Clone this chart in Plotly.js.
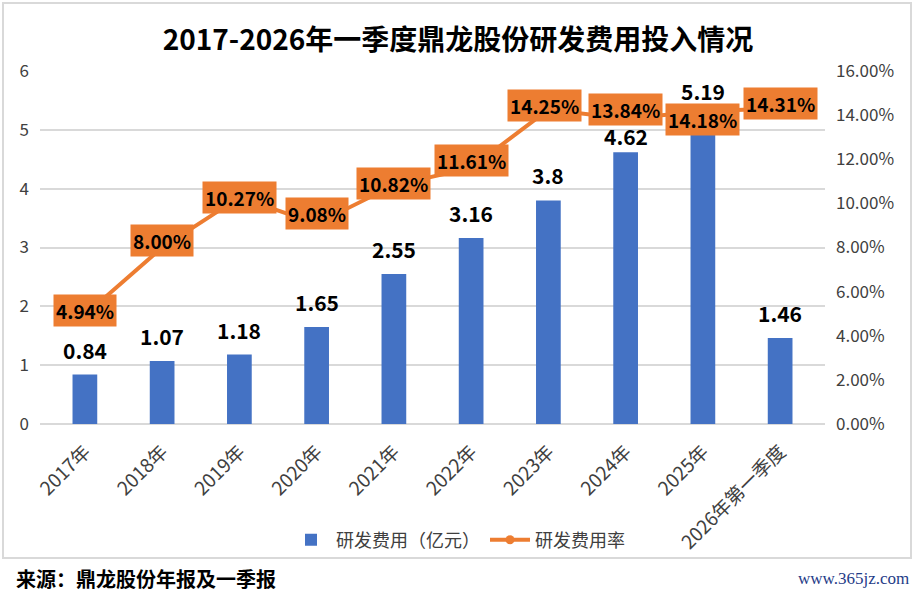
<!DOCTYPE html>
<html>
<head>
<meta charset="utf-8">
<script src="https://cdn.plot.ly/plotly-3.0.1.min.js"></script>
<style>
  html, body { margin: 0; padding: 0; background: #fff; }
  #chart { width: 916px; height: 592px; }
</style>
</head>
<body>
<div id="chart"></div>
<script>
// data
var years = ['2017年', '2018年', '2019年', '2020年', '2021年', '2022年', '2023年', '2024年', '2025年', '2026年第一季度']
var rdCost = [0.84, 1.07, 1.18, 1.65, 2.55, 3.16, 3.8, 4.62, 5.19, 1.46]          // 亿元
var rdRate = [4.94, 8.00, 10.27, 9.08, 10.82, 11.61, 14.25, 13.84, 14.18, 14.31]  // %

var FONT = '"Noto Sans CJK SC", "Microsoft YaHei", sans-serif'
var BLUE = '#4472C4'
var ORANGE = '#ED7D31'

// plot area in px: x 40..825, y 71..424
var W = 916, H = 592
var L = 40, R = 91, T = 71, B = 168
var pw = W - L - R, ph = H - T - B
function px(x) { return (x - L) / pw }
function py(y) { return (H - B - y) / ph }

var bars = {
  x: years,
  y: rdCost,
  type: 'bar',
  name: '研发费用（亿元）',
  marker: { color: BLUE },
  width: 0.32,
  hoverinfo: 'x+y'
}

var line = {
  x: years,
  y: rdRate,
  yaxis: 'y2',
  type: 'scatter',
  mode: 'lines+markers',
  name: '研发费用率',
  line: { color: ORANGE, width: 4 },
  marker: { color: ORANGE, size: 9 },
  cliponaxis: false
}

var annotations = []

// value labels above the bars (2024 and 2025 moved a bit to clear the orange boxes)
var barShift = [25, 25, 25, 25, 25, 25, 25, 16, 28, 25]
rdCost.forEach(function (v, i) {
  annotations.push({
    x: years[i], y: v, xref: 'x', yref: 'y',
    text: '<b>' + v + '</b>',
    showarrow: false, yanchor: 'middle', yshift: barShift[i],
    font: { family: FONT, size: 21, color: '#000' }
  })
})

// orange boxed labels on the rate line, nudged like in the original
var boxShift = [5, 7, 0, 10, 2, 7, 4, 9, -8, 5]
rdRate.forEach(function (v, i) {
  annotations.push({
    x: years[i], y: v, xref: 'x', yref: 'y2',
    text: '<b>' + v.toFixed(2) + '%</b>',
    showarrow: false, yanchor: 'middle',
    yshift: boxShift[i], xshift: i === 6 ? -4 : 0,
    bgcolor: ORANGE, borderpad: 2,
    font: { family: FONT, size: 19, color: '#000' }
  })
})

// source line and watermark under the frame
annotations.push({
  xref: 'paper', yref: 'paper', x: px(14), y: py(578),
  xanchor: 'left', yanchor: 'middle', showarrow: false,
  text: '<b>来源：鼎龙股份年报及一季报</b>',
  font: { family: FONT, size: 20, color: '#000' }
})
annotations.push({
  xref: 'paper', yref: 'paper', x: px(911), y: py(578),
  xanchor: 'right', yanchor: 'middle', showarrow: false,
  text: 'www.365jz.com',
  font: { family: '"Liberation Serif", serif', size: 17, color: '#1F3C88' }
})

var layout = {
  width: W, height: H,
  margin: { l: L, r: R, t: T, b: B, pad: 0 },
  paper_bgcolor: '#fff',
  plot_bgcolor: '#fff',
  font: { family: FONT, size: 16, color: '#404040' },
  title: {
    text: '<b>2017-2026年一季度鼎龙股份研发费用投入情况</b>',
    font: { family: FONT, size: 28, color: '#000' },
    x: 0.5, xanchor: 'center',
    y: 1 - 40 / H, yanchor: 'middle'
  },
  bargap: 0.68,
  xaxis: {
    type: 'category',
    tickangle: -45,
    tickfont: { family: FONT, size: 19, color: '#404040' },
    showgrid: false,
    showline: false,
    ticks: '',
    ticklabelstandoff: 12,
    zeroline: false,
    automargin: false,
    fixedrange: true
  },
  yaxis: {
    range: [0, 6],
    dtick: 1,
    showgrid: true,
    gridcolor: '#D9D9D9',
    gridwidth: 2,
    zeroline: true,
    zerolinecolor: '#D9D9D9',
    zerolinewidth: 2,
    tickfont: { family: FONT, size: 17, color: '#404040' },
    ticks: '',
    ticklabelstandoff: 10,
    fixedrange: true
  },
  yaxis2: {
    overlaying: 'y',
    side: 'right',
    range: [0, 16],
    tickvals: [0, 2, 4, 6, 8, 10, 12, 14, 16],
    ticktext: ['0.00%', '2.00%', '4.00%', '6.00%', '8.00%', '10.00%', '12.00%', '14.00%', '16.00%'],
    showgrid: false,
    zeroline: false,
    tickfont: { family: FONT, size: 17, color: '#404040' },
    ticks: '',
    ticklabelstandoff: 10,
    fixedrange: true
  },
  legend: {
    orientation: 'h',
    x: px(458), xanchor: 'center',
    y: py(540), yanchor: 'middle',
    itemwidth: 40,
    font: { family: FONT, size: 18, color: '#404040' },
    bgcolor: 'rgba(0,0,0,0)'
  },
  shapes: [{
    type: 'rect', xref: 'paper', yref: 'paper',
    x0: px(3), x1: px(911), y0: py(3), y1: py(558),
    line: { color: '#D9D9D9', width: 2 },
    fillcolor: 'rgba(0,0,0,0)',
    layer: 'below'
  }],
  annotations: annotations,
  showlegend: true
}

Plotly.newPlot('chart', [bars, line], layout, { displayModeBar: false, staticPlot: true })
</script>
</body>
</html>
